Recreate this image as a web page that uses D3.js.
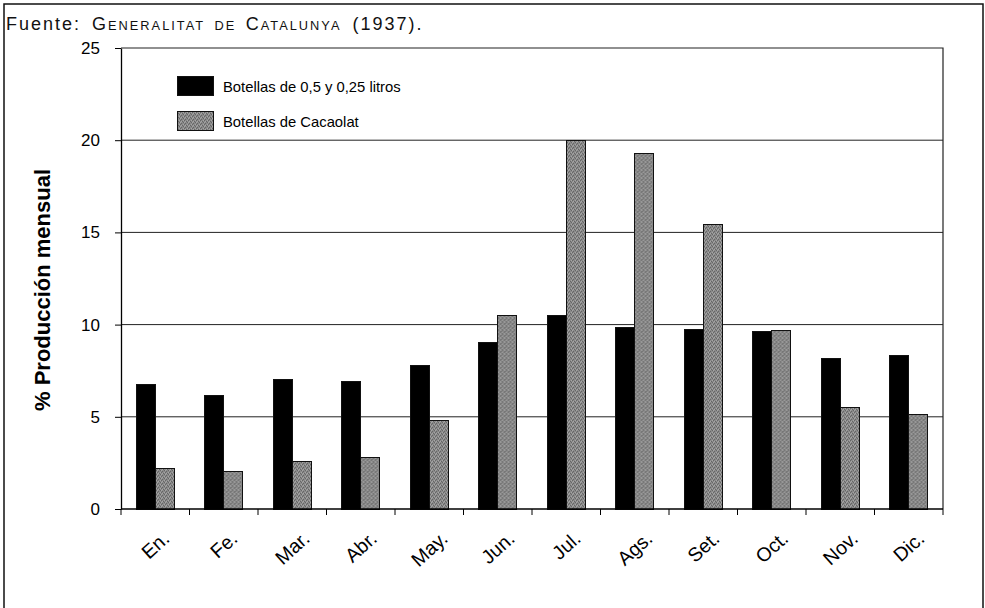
<!DOCTYPE html>
<html>
<head>
<meta charset="utf-8">
<script src="https://cdn.jsdelivr.net/npm/d3@7"></script>
<style>
  html, body { margin: 0; padding: 0; background: #fff; }
  svg { display: block; font-family: "Liberation Sans", Arial, Helvetica, sans-serif; }
</style>
</head>
<body>
<svg id="chart" width="985" height="608"></svg>
<script>
// ---- data ----
const months = ["En.", "Fe.", "Mar.", "Abr.", "May.", "Jun.", "Jul.", "Ags.", "Set.", "Oct.", "Nov.", "Dic."];
const botellas = [6.76, 6.18, 7.03, 6.9, 7.79, 9.03, 10.51, 9.86, 9.76, 9.61, 8.17, 8.35];
const cacaolat = [2.22, 2.06, 2.59, 2.8, 4.79, 10.48, 20.0, 19.28, 15.43, 9.7, 5.51, 5.13];
const seriesNames = ["Botellas de 0,5 y 0,25 litros", "Botellas de Cacaolat"];
const yTicks = [0, 5, 10, 15, 20, 25];
const yTitle = "% Producción mensual";
const sourceParts = [
  { t: "Fuente: G", small: false },
  { t: "ENERALITAT DE ", small: true },
  { t: "C", small: false },
  { t: "ATALUNYA", small: true },
  { t: " (1937).", small: false }
];

// ---- layout ----
const svg = d3.select("#chart");
const L = 121, R = 943, T = 48, B = 509;

const x = d3.scaleBand().domain(months).range([L, R]).padding(0);
const bw = x.bandwidth();
const x1 = d3.scaleBand().domain(seriesNames).range([bw * 0.22, bw * 0.78]).padding(0);
const y = d3.scaleLinear().domain([0, 25]).range([B, T]);

// pattern for the stippled grey bars (fixed texture)
const defs = svg.append("defs");
const pat = defs.append("pattern").attr("id", "stip").attr("patternUnits", "userSpaceOnUse")
  .attr("width", 4).attr("height", 4);
pat.append("rect").attr("width", 4).attr("height", 4).attr("fill", "#8a8a8a");
const darkPix = [[0,0],[2,1],[1,3],[3,2]];
const lightPix = [[1,1],[3,0],[0,2]];
darkPix.forEach(p => pat.append("rect").attr("x", p[0]).attr("y", p[1]).attr("width", 1).attr("height", 1).attr("fill", "#666"));
lightPix.forEach(p => pat.append("rect").attr("x", p[0]).attr("y", p[1]).attr("width", 1).attr("height", 1).attr("fill", "#a6a6a6"));

const fills = ["#000", "url(#stip)"];

// outer frame
svg.append("path").attr("d", "M4,608V4H983V608").attr("fill", "none")
  .attr("stroke", "#111").attr("stroke-width", 1.5);

// source text
const src = svg.append("text").attr("x", 6).attr("y", 30).attr("fill", "#111")
  .style("letter-spacing", "2px").style("word-spacing", "4px");
sourceParts.forEach(p => src.append("tspan").style("font-size", (p.small ? 12.8 : 18) + "px").text(p.t));

// gridlines
svg.append("g").selectAll("line").data(yTicks.filter(v => v > 0 && v < 25)).join("line")
  .attr("x1", L).attr("x2", R).attr("y1", d => y(d)).attr("y2", d => y(d))
  .attr("stroke", "#222").attr("stroke-width", 1);

// plot frame top and right
svg.append("path").attr("d", `M${L},${y(25)}H${R}V${y(0)}`).attr("fill", "none")
  .attr("stroke", "#222").attr("stroke-width", 1.2);

// bars
const data = months.map((m, i) => ({ m, vals: [botellas[i], cacaolat[i]] }));
const groups = svg.append("g").selectAll("g").data(data).join("g")
  .attr("transform", d => `translate(${x(d.m)},0)`);
groups.selectAll("rect").data(d => d.vals.map((v, j) => ({ v, s: seriesNames[j], j }))).join("rect")
  .attr("x", d => x1(d.s)).attr("width", x1.bandwidth())
  .attr("y", d => y(d.v)).attr("height", d => y(0) - y(d.v))
  .attr("fill", d => fills[d.j]).attr("stroke", "#111").attr("stroke-width", 1)
  .attr("shape-rendering", "crispEdges");

// y axis
const yAxis = svg.append("g").attr("transform", `translate(${L},0)`)
  .call(d3.axisLeft(y).tickValues(yTicks).tickSize(6).tickSizeOuter(0).tickPadding(15));
yAxis.select(".domain").attr("stroke", "#000").attr("stroke-width", 1.3);
yAxis.selectAll(".tick line").attr("stroke", "#000");
yAxis.selectAll(".tick text").attr("font-size", 17).attr("font-family", "Liberation Sans, Arial, sans-serif").attr("fill", "#000");

// x axis line and ticks at category boundaries
svg.append("line").attr("x1", L).attr("x2", R).attr("y1", y(0)).attr("y2", y(0))
  .attr("stroke", "#000").attr("stroke-width", 1.5);
const bounds = months.map(m => x(m)).concat([x.range()[1]]);
svg.append("g").selectAll("line").data(bounds).join("line")
  .attr("x1", d => d).attr("x2", d => d).attr("y1", y(0)).attr("y2", y(0) + 6)
  .attr("stroke", "#000").attr("stroke-width", 1);

// x labels rotated
const fs = 19.5, ang = 42, rad = ang * Math.PI / 180;
svg.append("g").selectAll("text").data(months).join("text")
  .attr("font-size", fs).attr("fill", "#000").attr("text-anchor", "middle").attr("dy", "0.35em")
  .text(d => d)
  .each(function (d) {
    const w = this.getComputedTextLength();
    const cx = x(d) + bw / 2;
    const cy = 528 + (w * Math.sin(rad) + fs * Math.cos(rad)) / 2;
    d3.select(this).attr("transform", `translate(${cx},${cy}) rotate(${-ang})`);
  });

// y title
svg.append("text").attr("transform", "translate(50,290) rotate(-90)")
  .attr("text-anchor", "middle").attr("font-size", 22).attr("font-weight", "bold").attr("fill", "#000")
  .text(yTitle);

// legend
const leg = svg.append("g");
seriesNames.forEach((s, i) => {
  const yy = 76 + i * 35;
  leg.append("rect").attr("x", 177).attr("y", yy).attr("width", 36).attr("height", 19)
    .attr("fill", fills[i]).attr("stroke", "#111").attr("stroke-width", 1).attr("shape-rendering", "crispEdges");
  leg.append("text").attr("x", 223).attr("y", yy + 16).attr("font-size", 14.8).attr("fill", "#000").text(s);
});
</script>
</body>
</html>
